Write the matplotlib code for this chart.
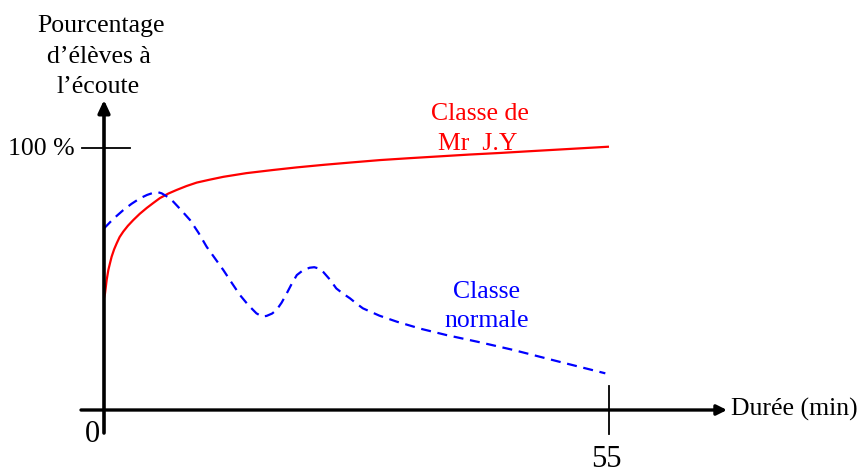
import matplotlib
matplotlib.use("Agg")
from matplotlib import pyplot as plt

# durée (min) / pourcentage d'élèves à l'écoute
x_jy = [0, 0.11, 0.29, 0.47, 0.65, 0.83, 1.1, 1.38, 1.7, 2.1, 2.6, 3.19, 3.9, 4.65, 5.4, 6.1, 7.0, 7.92,
        9.0, 10.1, 11.5, 13.0, 15.5, 18.4, 21.0, 24.0, 27.0, 30.1, 33.2, 36.5, 39.8, 43.1, 46.0, 49.0, 52.0, 55]
y_jy = [42.7, 44.5, 49.6, 53.4, 56.0, 58.5, 61.3, 63.6, 66.0, 68.1, 70.3, 72.5, 74.9, 77.1, 79.1, 80.9, 82.6, 84.0,
        85.5, 86.8, 87.9, 89.0, 90.4, 91.6, 92.6, 93.6, 94.5, 95.4, 96.1, 96.8, 97.5, 98.1, 98.7, 99.3, 99.9, 100.5]

x_norm = [0, 1.0, 2.1, 3.0, 3.92, 4.7, 5.37, 5.9, 6.28, 6.9, 7.55, 8.4, 9.37, 10.3, 11.18, 12.1, 13.0, 13.9,
          14.8, 15.7, 16.6, 17.2, 17.7, 18.3, 18.8, 19.35, 19.9, 20.45, 21.0, 21.7, 22.4, 22.9, 23.4, 23.9,
          24.6, 25.3, 26.0, 26.8, 27.5, 28.2, 30.0, 31.9, 34.5, 37.3, 41.0, 44.6, 49.5, 54.6]
y_norm = [69.3, 72.9, 76.3, 78.7, 80.8, 82.1, 82.9, 83.1, 82.7, 81.4, 79.5, 76.3, 72.5, 67.6, 62.3, 57.8, 53.4, 48.6,
          43.9, 40.1, 36.9, 35.7, 35.9, 36.8, 38.2, 41.0, 44.5, 48.2, 51.5, 53.4, 54.3, 54.5, 54.0, 52.6,
          49.8, 46.4, 44.5, 42.6, 40.6, 38.8, 36.0, 33.7, 31.0, 28.6, 25.8, 22.9, 18.5, 14.0]

xmax = 55
ymax = 100

# échelle : 1 min = 505/55 px, 1 % = 2.62 px, origine au pixel (104, 410)
sx = 505 / 55
sy = 2.62
def X(px):
    return (px - 104) / sx
def Y(py):
    return (410 - py) / sy

plt.rcParams['font.family'] = ['Liberation Serif', 'DejaVu Serif']

fig = plt.figure(figsize=(8.61, 4.75), dpi=100)
ax = fig.add_axes([0, 0, 1, 1])
ax.set_xlim(X(0), X(861))
ax.set_ylim(Y(475), Y(0))
ax.axis('off')

# axes
ax.annotate('', xy=(X(727), 0), xytext=(X(81), 0),
            arrowprops=dict(arrowstyle='-|>,head_length=0.6,head_width=0.3', lw=2.4, color='black',
                            shrinkA=0, shrinkB=0))
ax.annotate('', xy=(0, Y(100)), xytext=(0, Y(433)),
            arrowprops=dict(arrowstyle='-|>,head_length=0.75,head_width=0.35', lw=2.6, color='black',
                            shrinkA=0, shrinkB=0))
ax.plot([X(82), X(130)], [ymax, ymax], color='black', lw=1.3)
ax.plot([xmax, xmax], [Y(386), Y(434)], color='black', lw=1.3)

# courbes
ax.plot(x_jy, y_jy, color='#ff0000', lw=1.6, solid_capstyle='butt')
ax.plot(x_norm, y_norm, color='#0000ff', lw=1.6, dashes=(4.5, 3))

# textes
fs = 18.5
ax.text(X(101), Y(32), 'Pourcentage', fontsize=fs, ha='center', va='baseline')
ax.text(X(99), Y(63), 'd\u2019élèves à', fontsize=fs, ha='center', va='baseline')
ax.text(X(98), Y(93), 'l\u2019écoute', fontsize=fs, ha='center', va='baseline')
ax.text(X(75), Y(155), '100 %', fontsize=fs, ha='right', va='baseline')
ax.text(X(731), Y(416), 'Durée (min)', fontsize=fs, ha='left', va='baseline')
ax.text(X(92.5), Y(442), '0', fontsize=22, ha='center', va='baseline')
ax.text(X(606), Y(474), '55', fontsize=22, ha='center', va='bottom')

ax.text(X(480), Y(120), 'Classe de', fontsize=fs, color='#ff0000', ha='center', va='baseline')
ax.text(X(478), Y(150), 'Mr  J.Y', fontsize=fs, color='#ff0000', ha='center', va='baseline')
ax.text(X(487), Y(298), 'Classe', fontsize=fs, color='#0000ff', ha='center', va='baseline')
ax.text(X(487), Y(327), 'normale', fontsize=fs, color='#0000ff', ha='center', va='baseline')

fig.savefig('out.png', dpi=100)
